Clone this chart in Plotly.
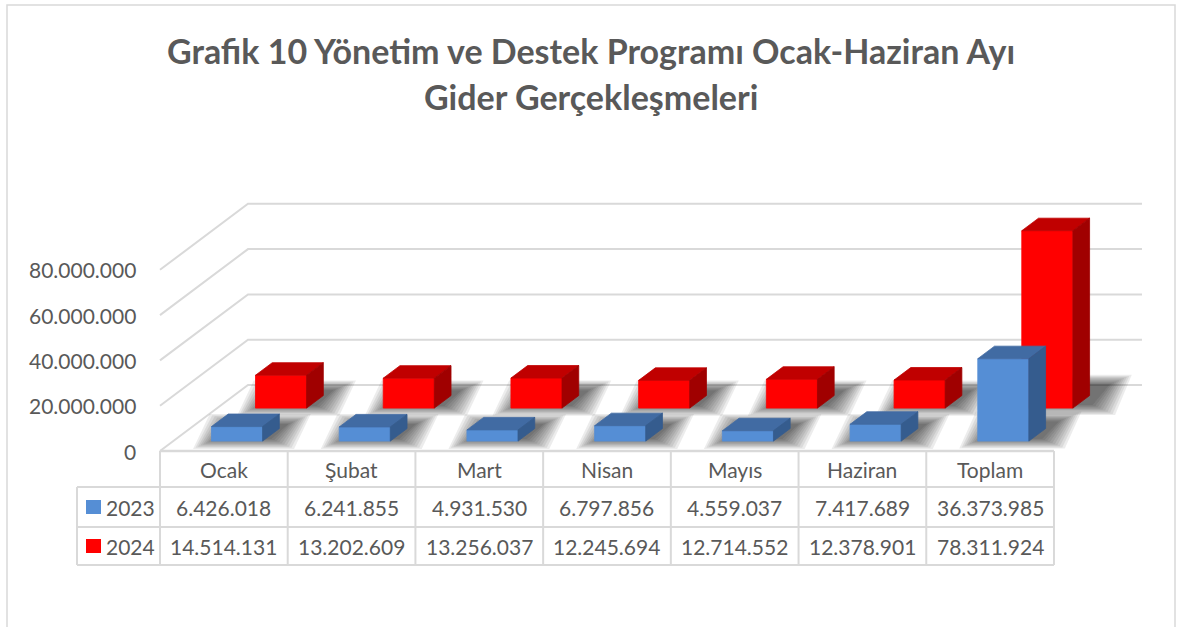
import plotly.graph_objects as go

# ---------------- data ----------------
categories = ["Ocak", "Şubat", "Mart", "Nisan", "Mayıs", "Haziran", "Toplam"]
series_names = ["2023", "2024"]
values_2023 = [6426018, 6241855, 4931530, 6797856, 4559037, 7417689, 36373985]
values_2024 = [14514131, 13202609, 13256037, 12245694, 12714552, 12378901, 78311924]
tick_values = [0, 20000000, 40000000, 60000000, 80000000]
title_lines = ["Grafik 10 Yönetim ve Destek Programı Ocak-Haziran Ayı",
               "Gider Gerçekleşmeleri"]

# ---------------- layout geometry ----------------
W, H = 1177, 627
PLOT_LEFT_PX = 160          # pixel where first category column starts
UNIT_PX = 127.71            # pixels per category
ZERO_PX = 451               # pixel row of value 0 on the front plane
PX_PER_VAL = 2.265e-6       # pixels per unit value

x_range = [-0.5 - PLOT_LEFT_PX / UNIT_PX, -0.5 + (W - PLOT_LEFT_PX) / UNIT_PX]
y_range = [-(H - ZERO_PX) / PX_PER_VAL, ZERO_PX / PX_PER_VAL]

DX = 88 / UNIT_PX           # depth vector (x units)
DY = 66 / PX_PER_VAL        # depth vector (value units)
BAR_W = 0.40
BAR_DEPTH = 0.19
DEPTH = {"2023": 0.15, "2024": 0.65}

GRID = "#D9D9D9"
TXT = "#595959"
FONT = "Lato"

def fmt(v):
    return f"{v:,}".replace(",", ".")

def paper_y(py):
    return 1 - py / H

def px_x(px):
    return -0.5 + (px - PLOT_LEFT_PX) / UNIT_PX

fig = go.Figure()
shapes = []
annotations = []

# outer border
shapes.append(dict(type="rect", xref="paper", yref="paper",
                   x0=7 / W, x1=1175 / W, y0=-0.05, y1=paper_y(5),
                   line=dict(color=GRID, width=1.5), layer="below"))

# gridlines (wall) for each tick
n = len(categories)
x_left, x_right = -0.5, n - 0.5
for v in tick_values:
    shapes.append(dict(type="path", xref="x", yref="y", layer="below",
                       path=f"M {x_left},{v} L {x_left + DX},{v + DY} L {x_right + DX},{v + DY}",
                       line=dict(color=GRID, width=2)))
# floor front edge
shapes.append(dict(type="line", xref="x", yref="y", layer="below",
                   x0=x_left, y0=0, x1=x_right, y1=0, line=dict(color=GRID, width=2.5)))

# y tick labels
for v in tick_values:
    annotations.append(dict(x=x_left, y=v, xref="x", yref="y", text=fmt(v),
                            showarrow=False, xanchor="right", yanchor="middle",
                            xshift=-22, font=dict(family=FONT, size=21, color=TXT)))

# soft contact shadows (layered skewed parallelograms)
def add_shadows(vals, f):
    ddx, ddy = BAR_DEPTH * DX, BAR_DEPTH * DY
    for i, v in enumerate(vals):
        xl = i - BAR_W / 2 + f * DX
        xr = xl + BAR_W
        yb = f * DY
        tall = min(v / 80e6, 1.0)
        sx = (6 + 6 * tall) / UNIT_PX
        sy = (3 + 4 * tall) / PX_PER_VAL
        for k in range(10):
            e = (2 + 2.5 * k + 6 * tall) / UNIT_PX
            ev = (1 + 1.1 * k + 3 * tall) / PX_PER_VAL
            pts = [(xl - e, yb - ev), (xr + e, yb - ev),
                   (xr + ddx + e, yb + ddy + ev), (xl + ddx - e, yb + ddy + ev)]
            pts = [(px + sx, py + sy) for px, py in pts]
            path = "M " + " L ".join(f"{a},{b}" for a, b in pts) + " Z"
            shapes.append(dict(type="path", xref="x", yref="y", layer="below", path=path,
                               fillcolor="rgba(0,0,0,0.075)", line=dict(width=0)))

add_shadows(values_2024, DEPTH["2024"])
add_shadows(values_2023, DEPTH["2023"])

# 3D bars as filled polygons
def bar_traces(vals, f, front_c, top_c, side_c, name):
    fx, fy, tx, ty, sx, sy = [], [], [], [], [], []
    ddx, ddy = BAR_DEPTH * DX, BAR_DEPTH * DY
    for i, v in enumerate(vals):
        xl = i - BAR_W / 2 + f * DX
        xr = xl + BAR_W
        yb = f * DY
        yt = yb + v
        fx += [xl, xr, xr, xl, xl, None]
        fy += [yb, yb, yt, yt, yb, None]
        tx += [xl, xr, xr + ddx, xl + ddx, xl, None]
        ty += [yt, yt, yt + ddy, yt + ddy, yt, None]
        sx += [xr, xr + ddx, xr + ddx, xr, xr, None]
        sy += [yb, yb + ddy, yt + ddy, yt, yb, None]
    out = []
    for xs, ys, c in [(fx, fy, front_c), (tx, ty, top_c), (sx, sy, side_c)]:
        out.append(go.Scatter(x=xs, y=ys, mode="lines", fill="toself", fillcolor=c,
                              line=dict(color=c, width=0.8), name=name,
                              hoverinfo="skip", showlegend=False))
    return out

for t in bar_traces(values_2024, DEPTH["2024"], "#FF0000", "#C00000", "#A00000", "2024"):
    fig.add_trace(t)
for t in bar_traces(values_2023, DEPTH["2023"], "#558ED5", "#416BA3", "#355C8E", "2023"):
    fig.add_trace(t)

# ---------------- data table ----------------
row_edges = [451, 487, 527, 565]
legend_left = px_x(77)
for py in row_edges[1:]:
    shapes.append(dict(type="line", xref="x", yref="paper", x0=legend_left, x1=x_right,
                       y0=paper_y(py), y1=paper_y(py), line=dict(color=GRID, width=2)))
for k in range(n + 1):
    shapes.append(dict(type="line", xref="x", yref="paper", x0=-0.5 + k, x1=-0.5 + k,
                       y0=paper_y(row_edges[0]), y1=paper_y(row_edges[-1]),
                       line=dict(color=GRID, width=2)))
shapes.append(dict(type="line", xref="x", yref="paper", x0=legend_left, x1=legend_left,
                   y0=paper_y(row_edges[1]), y1=paper_y(row_edges[-1]),
                   line=dict(color=GRID, width=2)))

def row_center(r):
    return paper_y((row_edges[r] + row_edges[r + 1]) / 2)

for i, c in enumerate(categories):
    annotations.append(dict(x=i, y=row_center(0), xref="x", yref="paper", text=c,
                            showarrow=False, xanchor="center", yanchor="middle",
                            font=dict(family=FONT, size=21, color=TXT)))
colors = {"2023": "#558ED5", "2024": "#FF0000"}
for r, (name, vals) in enumerate(zip(series_names, [values_2023, values_2024]), start=1):
    for i, v in enumerate(vals):
        annotations.append(dict(x=i, y=row_center(r), xref="x", yref="paper", text=fmt(v),
                                showarrow=False, xanchor="center", yanchor="middle",
                                font=dict(family=FONT, size=21, color=TXT)))
    cy = (row_edges[r] + row_edges[r + 1]) / 2
    shapes.append(dict(type="rect", xref="x", yref="paper", x0=px_x(86), x1=px_x(101),
                       y0=paper_y(cy + 7), y1=paper_y(cy - 7),
                       fillcolor=colors[name], line=dict(width=0)))
    annotations.append(dict(x=px_x(104), y=row_center(r), xref="x", yref="paper", text=name,
                            showarrow=False, xanchor="left", yanchor="middle",
                            font=dict(family=FONT, size=21, color=TXT)))

# title
for line, py in zip(title_lines, [51, 97]):
    annotations.append(dict(x=591 / W, y=paper_y(py), xref="paper", yref="paper", text=f"<b>{line}</b>",
                            showarrow=False, xanchor="center", yanchor="middle",
                            font=dict(family=FONT, size=34, color=TXT)))

fig.update_layout(
    width=W, height=H,
    margin=dict(l=0, r=0, t=0, b=0),
    paper_bgcolor="white", plot_bgcolor="white",
    xaxis=dict(range=x_range, visible=False, fixedrange=True),
    yaxis=dict(range=y_range, visible=False, fixedrange=True),
    shapes=shapes, annotations=annotations, showlegend=False,
)

fig.write_html("out.html", config={"displayModeBar": False},
               post_script="document.body.style.margin='0';document.body.style.overflow='hidden';")
